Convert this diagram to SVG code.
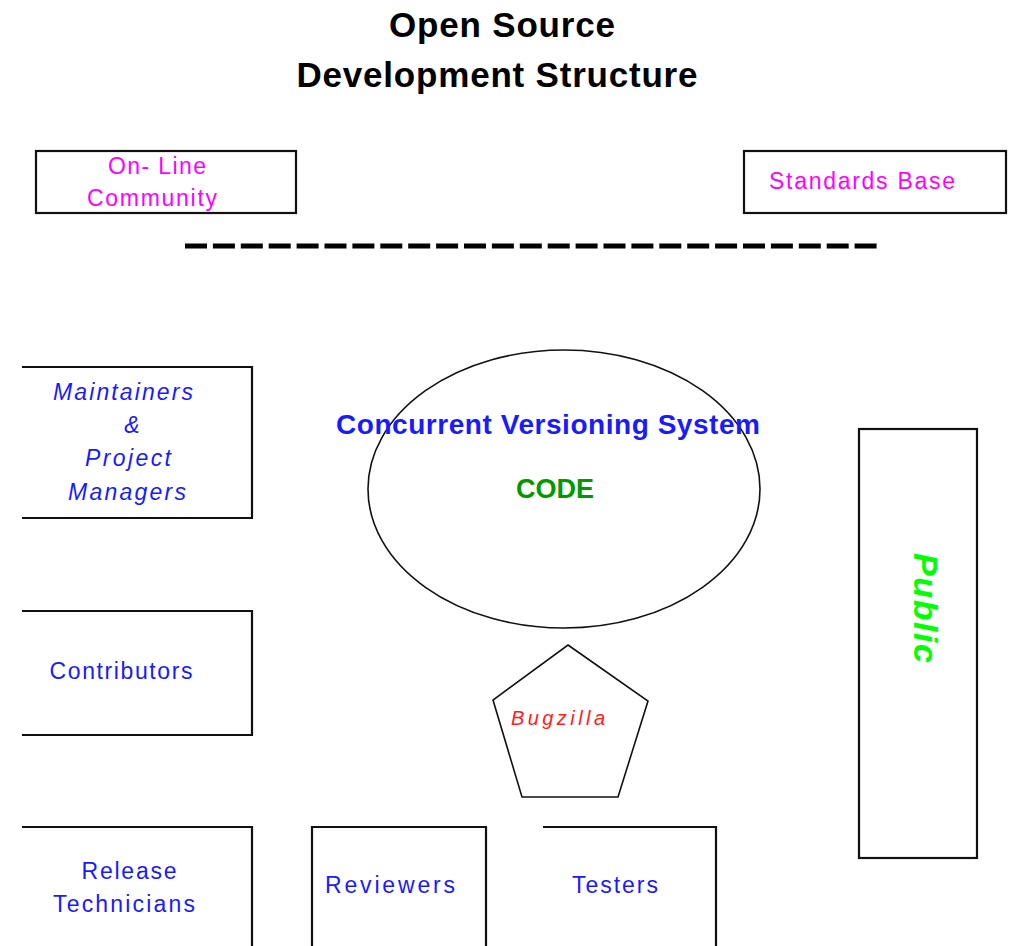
<svg xmlns="http://www.w3.org/2000/svg" width="1010" height="946" viewBox="0 0 1010 946">
<style>
.box{fill:none;stroke:#111;stroke-width:2.2}
.shape{fill:none;stroke:#111;stroke-width:1.6}
.t{font-family:"Liberation Sans",Arial,sans-serif;text-anchor:middle}
.title{font-size:35px;font-weight:bold;fill:#000}
.mag{font-size:23px;fill:#ff00ff}
.blue{font-size:23px;fill:#1a1aff}
.it{font-style:italic}
</style>
<rect width="1010" height="946" fill="#fff"/>
<g id="title">
<text class="t title" x="502" y="37" textLength="226">Open Source</text>
<text class="t title" x="497" y="87" textLength="401">Development Structure</text>
</g>
<g id="online-community">
<rect class="box" x="36" y="151" width="260" height="62"/>
<text class="t mag" x="157" y="174" textLength="98">On- Line</text>
<text class="t mag" x="152" y="206" textLength="130">Community</text>
</g>
<g id="standards-base">
<rect class="box" x="744" y="151" width="262" height="62"/>
<text class="t mag" x="862" y="189" textLength="186">Standards Base</text>
</g>
<g id="divider">
<line x1="185" y1="246" x2="880" y2="246" stroke="#000" stroke-width="5" stroke-dasharray="22 5.9"/>
</g>
<g id="maintainers">
<polyline class="box" points="22,367 252,367 252,518 22,518"/>
<text class="t blue it" x="123" y="400" textLength="140">Maintainers</text>
<text class="t blue it" x="132" y="433">&amp;</text>
<text class="t blue it" x="128" y="466" textLength="86">Project</text>
<text class="t blue it" x="127" y="500" textLength="118">Managers</text>
</g>
<g id="contributors">
<polyline class="box" points="22,611 252,611 252,735 22,735"/>
<text class="t blue" x="121" y="679" textLength="143">Contributors</text>
</g>
<g id="release-technicians">
<polyline class="box" points="22,827 252,827 252,946"/>
<text class="t blue" x="129" y="879" textLength="95">Release</text>
<text class="t blue" x="124" y="912" textLength="142">Technicians</text>
</g>
<g id="reviewers">
<polyline class="box" points="312,946 312,827 486,827 486,946"/>
<text class="t blue" x="390" y="893" textLength="130">Reviewers</text>
</g>
<g id="testers">
<polyline class="box" points="543,827 716,827 716,946"/>
<text class="t blue" x="615" y="893" textLength="86">Testers</text>
</g>
<g id="cvs">
<ellipse class="shape" cx="564" cy="489" rx="196" ry="139"/>
<text class="t" x="548" y="434" font-size="28" font-weight="bold" fill="#1a1aff" textLength="424">Concurrent Versioning System</text>
<text class="t" x="555" y="498" font-size="27" font-weight="bold" fill="#009900">CODE</text>
</g>
<g id="bugzilla">
<polygon class="shape" points="568,645 648,701 618,797 522,797 493,700"/>
<text class="t it" x="558" y="725" font-size="20" fill="#ff2020" textLength="94">Bugzilla</text>
</g>
<g id="public">
<rect class="box" x="859" y="429" width="118" height="429"/>
<text class="t it" transform="translate(914,608) rotate(90)" x="0" y="0" font-size="34" font-weight="bold" fill="#00ff00" textLength="110">Public</text>
</g>
<g id="connectors"></g>
</svg>
